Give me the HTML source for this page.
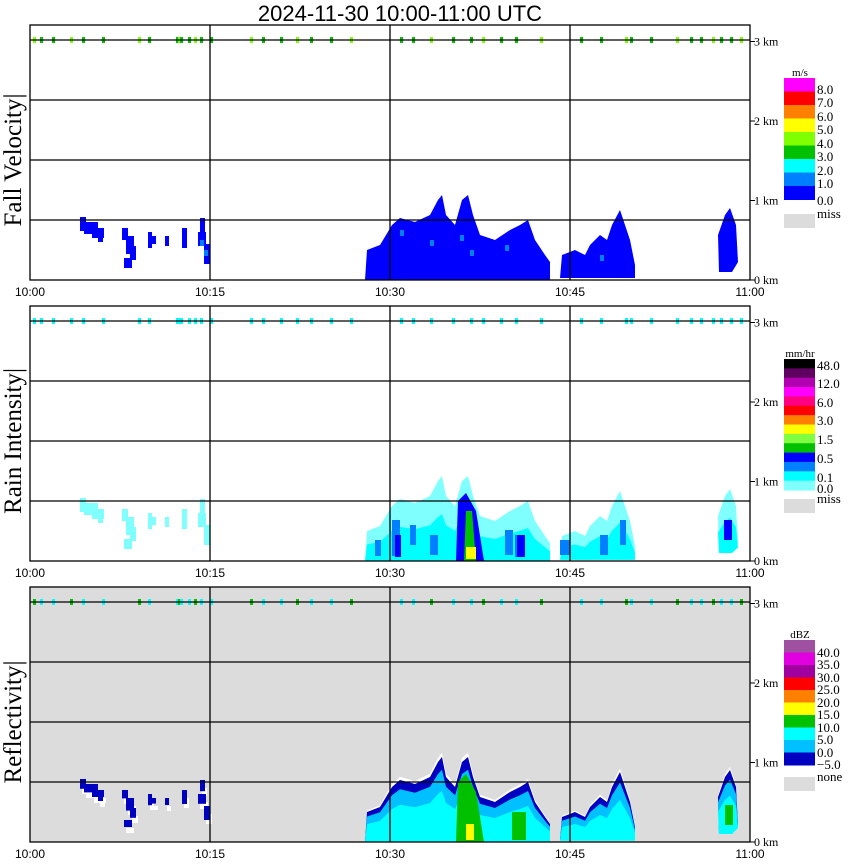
<!DOCTYPE html>
<html><head><meta charset="utf-8"><style>
html,body{margin:0;padding:0;background:#fff;}
svg{display:block;}
text{font-family:"Liberation Serif",serif;}
</style></head><body>
<svg id="s" width="850" height="868" xmlns="http://www.w3.org/2000/svg">
<text x="400" y="21" style="font-family:'Liberation Sans',sans-serif" font-size="22" text-anchor="middle">2024-11-30   10:00-11:00 UTC</text>
<g id="panels"></g>
</svg>
<script>
var NS="http://www.w3.org/2000/svg",G=document.getElementById('panels');
function el(t,a,txt){var e=document.createElementNS(NS,t);for(var k in a)e.setAttribute(k,a[k]);if(txt!=null)e.textContent=txt;G.appendChild(e);return e;}
var tops=[25,306,587];
var prof=[
 [[365,280],[367,250],[380,245],[392,225],[400,218],[415,222],[430,215],[438,200],[442,195],[446,215],[455,225],[462,200],[468,195],[473,215],[480,235],[495,240],[510,230],[520,225],[528,220],[535,240],[545,255],[550,262],[550,280]],
 [[560,278],[562,255],[575,250],[585,255],[590,245],[600,235],[607,240],[612,225],[620,210],[625,225],[630,240],[635,265],[635,278]],
 [[719,272],[718,235],[725,215],[730,208],[736,225],[738,262],[732,272]]
];
var small=[[80,217,6,14],[84,222,14,12],[92,228,12,10],[98,232,5,10],[122,228,6,12],[126,236,8,18],[130,246,6,14],[124,258,8,10],[148,232,4,16],[150,236,6,8],[165,236,4,10],[182,228,5,20],[200,218,5,16],[198,232,8,14],[204,244,6,20]];
var ticks=[33,40,52,70,82,102,138,148,176,178,180,188,194,200,210,250,262,280,296,310,330,350,400,412,430,452,470,482,500,515,540,580,600,625,630,650,676,690,700,712,720,730,740];
function scaled(p,k,base,dy){return p.map(function(q){return q[0]+','+(base-(base-q[1])*k+dy);}).join(' ');}
function drawBlobs(i,dy,layers){
 prof.forEach(function(p,j){
  var base=j==2?272:280;
  layers.forEach(function(L){el('polygon',{points:scaled(p,L[0],base,dy),fill:L[1]});});
 });
}
var lbl=["Fall Velocity|","Rain Intensity|","Reflectivity|"];
for(var i=0;i<3;i++){
 var t=tops[i],dy=t-25,b=t+255;
 if(i==2)el('rect',{x:30,y:t,width:720,height:255,fill:'#dcdcdc'});
 if(i==0){
  drawBlobs(i,dy,[[1,'#0000ff']]);
  small.forEach(function(r){el('rect',{x:r[0],y:r[1]+dy,width:r[2],height:r[3],fill:'#0000ff'});});
  [[400,230],[430,240],[460,235],[470,250],[505,245],[600,255],[200,240],[204,250]].forEach(function(q){el('rect',{x:q[0],y:q[1],width:4,height:6,fill:'#0080ff'});});
 } else if(i==1){
  drawBlobs(i,dy,[[1,'#80ffff'],[0.55,'#00ffff']]);
  small.forEach(function(r){el('rect',{x:r[0],y:r[1]+dy,width:r[2],height:r[3],fill:'#80ffff'});});
  [[375,540,6,16],[392,520,8,36],[410,525,6,20],[430,535,8,20],[470,520,6,20],[505,530,8,25],[515,535,10,22],[560,540,10,15],[600,535,8,20],[620,520,6,25]].forEach(function(r){el('rect',{x:r[0],y:r[1],width:r[2],height:r[3],fill:'#0080ff'});});
  el('polygon',{points:'458,'+(561-60)+' 466,'+(561-68)+' 476,'+(561-50)+' 484,561 456,561',fill:'#0000ff'});
  el('polygon',{points:'466,'+(561-50)+' 472,'+(561-50)+' 476,561 464,561',fill:'#00c000'});
  el('rect',{x:466,y:561-14,width:10,height:12,fill:'#ffff00'});
  el('rect',{x:395,y:535,width:6,height:22,fill:'#0000ff'});
  el('rect',{x:517,y:535,width:8,height:22,fill:'#0000ff'});
  el('rect',{x:724,y:520,width:8,height:20,fill:'#0000ff'});
 } else {
  drawBlobs(i,dy,[[1.05,'#ffffff'],[1,'#0000c0'],[0.85,'#00c0ff'],[0.6,'#00ffff']]);
  small.forEach(function(r){el('rect',{x:r[0]+2,y:r[1]+dy+8,width:r[2],height:r[3]*0.5,fill:'#ffffff'});el('rect',{x:r[0],y:r[1]+dy,width:r[2],height:r[3]*0.7,fill:'#0000c0'});});
  el('polygon',{points:'458,'+(842-60)+' 466,'+(842-68)+' 476,'+(842-50)+' 484,842 456,842',fill:'#00c000'});
  el('rect',{x:466,y:842-18,width:8,height:16,fill:'#ffff00'});
  el('rect',{x:512,y:812,width:14,height:28,fill:'#00c000'});
  el('rect',{x:725,y:805,width:8,height:20,fill:'#00c000'});
 }
 ticks.forEach(function(x,k){var c=i==0?(k%3==0?'#80ff00':'#00c000'):(i==1?'#00ffff':(k%3==0?'#00c000':'#00ffff'));el('rect',{x:x,y:t+12,width:3,height:6,fill:c});});
 [15,75,135,195].forEach(function(g){el('line',{x1:30,x2:750,y1:t+g,y2:t+g,stroke:'#000','stroke-width':1.3});});
 [210,390,570].forEach(function(x){el('line',{x1:x,x2:x,y1:t,y2:b,stroke:'#000','stroke-width':1.3});});
 el('rect',{x:30,y:t,width:720,height:255,fill:'none',stroke:'#000','stroke-width':1.3});
 ['0 km','1 km','2 km','3 km'].forEach(function(s,k){el('line',{x1:750,x2:755,y1:b-k*79.5,y2:b-k*79.5,stroke:'#000'});el('text',{x:754,y:b-k*79.5+4,'font-size':12},s);});
 ['10:00','10:15','10:30','10:45','11:00'].forEach(function(s,k){el('text',{x:30+k*180,y:b+16,'font-size':12,'text-anchor':'middle',style:"font-family:'Liberation Sans',sans-serif"},s);});
 el('text',{x:0,y:0,'font-size':25,'text-anchor':'middle',transform:'translate(21,'+(t+135)+') rotate(-90)'},lbl[i]);
}
function cbar(top,h,cols,labs,title,missY,missT){
 cols.forEach(function(c,k){el('rect',{x:784,y:top+k*h,width:31,height:h+0.5,fill:c});});
 el('text',{x:800,y:top-2,'font-size':11,'text-anchor':'middle'},title);
 labs.forEach(function(l){el('text',{x:817,y:l[1],'font-size':13},l[0]);});
 el('rect',{x:784,y:missY,width:31,height:14,fill:'#dcdcdc'});
 el('text',{x:817,y:missY+4,'font-size':13},missT);
}
cbar(78,13.5,['#ff00ff','#ff0000','#ff8000','#ffff00','#80ff00','#00c000','#00ffff','#0080ff','#0000ff'],
 [['8.0',94],['7.0',107],['6.0',121],['5.0',134],['4.0',148],['3.0',161],['2.0',175],['1.0',188],['0.0',205]],'m/s',214,'miss');
cbar(359,9.36,['#000000','#600060','#b000b0','#ff00ff','#ff0080','#ff0000','#ff8000','#ffff00','#80ff40','#00c000','#0000ff','#0080ff','#00ffff','#80ffff'],
 [['48.0',370],['12.0',388],['6.0',407],['3.0',425],['1.5',444],['0.5',463],['0.1',482],['0.0',493]],'mm/hr',499,'miss');
cbar(640,12.5,['#a050a0','#e000e0','#a000a0','#ff0000','#ff8000','#ffff00','#00c000','#00ffff','#00c0ff','#0000c0'],
 [['40.0',657],['35.0',669],['30.0',682],['25.0',694],['20.0',707],['15.0',719],['10.0',732],['5.0',744],['0.0',757],['\u22125.0',769]],'dBZ',777,'none');
</script>
</body></html>
